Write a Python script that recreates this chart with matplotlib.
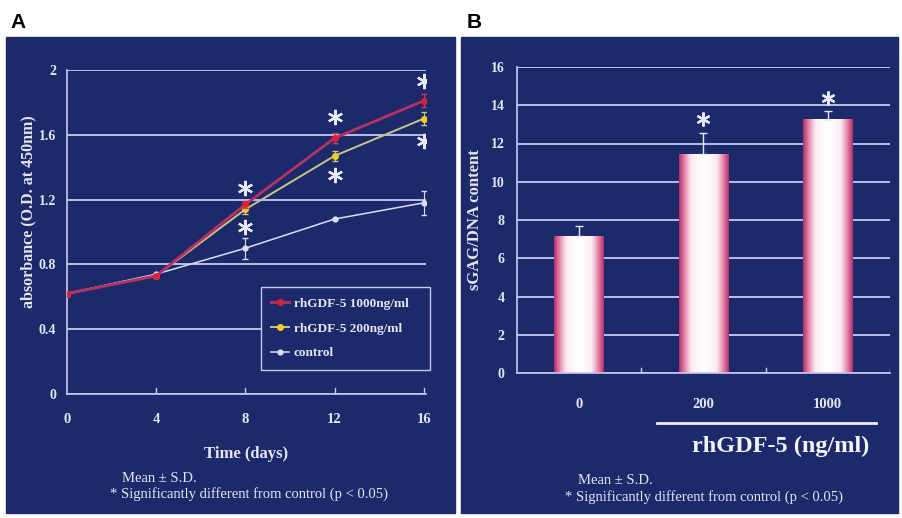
import numpy as np
import matplotlib
matplotlib.use("Agg")
import matplotlib.pyplot as plt
from matplotlib.patches import Rectangle
from matplotlib.lines import Line2D
from matplotlib.colors import LinearSegmentedColormap

# panel A data
days = [0, 4, 8, 12, 16]
gdf1000 = [0.62, 0.73, 1.17, 1.58, 1.81]
gdf1000_sd = [0.0, 0.0, 0.02, 0.03, 0.04]
gdf200 = [0.62, 0.73, 1.14, 1.47, 1.70]
gdf200_sd = [0.0, 0.0, 0.03, 0.03, 0.04]
ctrl = [0.62, 0.74, 0.90, 1.08, 1.18]
ctrl_sd = [0.0, 0.0, 0.065, 0.0, 0.075]
star_days = [8, 8, 12, 12, 16, 16]
star_y = [1.27, 1.03, 1.71, 1.35, 1.93, 1.56]

# panel B data
doses = ["0", "200", "1000"]
gag = [7.15, 11.45, 13.25]
gag_sd = [0.55, 1.1, 0.45]
gag_star = [None, 13.3, 14.4]

navy = "#1c2a6c"
grid_c = "#c9c8f0"
txt_c = "#e6e6f4"
serif = ["Liberation Serif", "DejaVu Serif"]

fig = plt.figure(figsize=(9.02, 5.18), dpi=100)
fig.add_artist(Rectangle((6/902, 1-513/518), 449/902, 476/518,
                         transform=fig.transFigure, color=navy, zorder=-10))
fig.add_artist(Rectangle((461/902, 1-513/518), 437/902, 476/518,
                         transform=fig.transFigure, color=navy, zorder=-10))
fig.text(10/902, 1-22/518, "A", fontsize=15, fontweight="bold",
         family="Liberation Sans", va="center", ha="left")
fig.text(467/902, 1-22/518, "B", fontsize=15, fontweight="bold",
         family="Liberation Sans", va="center", ha="left")


def style_axes(ax):
    ax.set_facecolor(navy)
    for s in ["top", "right"]:
        ax.spines[s].set_visible(False)
    for s in ["left", "bottom"]:
        ax.spines[s].set_color(grid_c)
        ax.spines[s].set_linewidth(1.2)
    ax.tick_params(colors=grid_c, labelcolor=txt_c, length=0)
    ax.tick_params(axis="y", labelsize=10)
    ax.tick_params(axis="x", labelsize=10.5)
    for lab in ax.get_xticklabels() + ax.get_yticklabels():
        lab.set_family(serif)
        lab.set_fontweight("bold")
    ax.yaxis.grid(True, color=grid_c, linewidth=1.3)
    ax.set_axisbelow(True)


# ---------- panel A ----------
axA = fig.add_axes([67/902, 1-394/518, 359/902, 324/518])
axA.set_xlim(0, 16.1)
axA.set_ylim(0, 2)
axA.set_yticks([0, 0.4, 0.8, 1.2, 1.6, 2])
axA.set_yticklabels(["0", "0.4", "0.8", "1.2", "1.6", "2"])
axA.set_xticks(days)
style_axes(axA)
axA.tick_params(axis="y", pad=8)
axA.tick_params(axis="x", pad=14)
for d in days[1:]:
    axA.plot([d, d], [0, 0.04], color=grid_c, lw=1)

axA.errorbar(days, ctrl, yerr=ctrl_sd, color="#dcdcf4", lw=1.1, marker="o", ms=3.5,
             capsize=2.5, elinewidth=0.8, label="control", zorder=3)
axA.errorbar(days, gdf200, yerr=gdf200_sd, color="#c8c48a", lw=1.4, marker="o", ms=4,
             mfc="#f0d020", mec="#f0d020", capsize=2.5, elinewidth=0.8,
             ecolor="#c8c48a", label="rhGDF-5 200ng/ml", zorder=4)
axA.errorbar(days, gdf1000, yerr=gdf1000_sd, color="#b83060", lw=2, marker="o", ms=4,
             mfc="#e02030", mec="#e02030", capsize=2.5, elinewidth=0.8,
             ecolor="#c04060", label="rhGDF-5 1000ng/ml", zorder=5)
axA.plot(star_days, star_y, ls="none", marker=(6, 2, 0), ms=11, mew=1.6,
         color="#e8e8f8", zorder=6)

handles = [
    Line2D([], [], color="#b83060", lw=2, marker="o", ms=4, mfc="#e02030", mec="#e02030"),
    Line2D([], [], color="#c8c48a", lw=1.4, marker="o", ms=4, mfc="#f0d020", mec="#f0d020"),
    Line2D([], [], color="#dcdcf4", lw=1.1, marker="o", ms=3.5),
]
leg = axA.legend(handles, ["rhGDF-5 1000ng/ml", "rhGDF-5 200ng/ml", "control"],
                 loc="lower left", bbox_to_anchor=(0.54, 0.074, 0.47, 0.256),
                 mode="expand", frameon=True, fancybox=False, handlelength=1.3,
                 borderpad=0.8, labelspacing=0.95, handletextpad=0.4,
                 borderaxespad=0,
                 prop={"family": serif, "weight": "bold", "size": 9.5})
leg.get_frame().set_facecolor(navy)
leg.get_frame().set_edgecolor(grid_c)
leg.get_frame().set_alpha(1)
for t in leg.get_texts():
    t.set_color(txt_c)

axA.set_xlabel("Time (days)", color=txt_c, family=serif, fontweight="bold",
               fontsize=12, labelpad=14)
fig.text(28/902, 1-212/518, "absorbance (O.D. at 450nm)", rotation=90,
         color=txt_c, family=serif, fontweight="bold", fontsize=11.5,
         ha="center", va="center")
fig.text(122/902, 1-478/518, "Mean \u00b1 S.D.", color=txt_c, family=serif,
         fontsize=10.5, va="center")
fig.text(110/902, 1-494/518, "* Significantly different from control (p < 0.05)",
         color=txt_c, family=serif, fontsize=10.5, va="center")

# ---------- panel B ----------
axB = fig.add_axes([517/902, 1-373/518, 373/902, 306/518])
pos = np.arange(len(doses))
axB.set_xlim(-0.5, 2.5)
axB.set_ylim(0, 16)
axB.set_yticks(range(0, 17, 2))
axB.set_xticks(pos)
axB.set_xticklabels(doses)
style_axes(axB)
axB.tick_params(axis="y", pad=9)
axB.tick_params(axis="x", pad=18)
for b in [0.5, 1.5, 2.5]:
    axB.plot([b, b], [0, 0.25], color=grid_c, lw=1)

grad_x = np.linspace(0, 1, 200)
prof = np.clip(np.abs(grad_x - 0.5) * 2, 0, 1) ** 1.6
grad = np.vstack([prof, prof])
bar_cmap = LinearSegmentedColormap.from_list(
    "barg", [(0, "#ffffff"), (0.35, "#fbe8f0"), (0.7, "#e07aa2"), (1, "#b42d68")])
bw = 0.4
for p, v in zip(pos, gag):
    axB.imshow(grad, cmap=bar_cmap, aspect="auto", interpolation="bilinear",
               extent=(p - bw/2, p + bw/2, 0, v), zorder=2)
axB.set_xlim(-0.5, 2.5)
axB.set_ylim(0, 16)
axB.errorbar(pos, gag, yerr=[np.zeros(3), gag_sd], fmt="none", ecolor="#e8e8f8",
             elinewidth=1, capsize=3, zorder=3)
for p, s in zip(pos, gag_star):
    if s is not None:
        axB.plot([p], [s], ls="none", marker=(6, 2, 0), ms=10, mew=1.6,
                 color="#e8e8f8", zorder=4)

axB.plot([0.63, 2.39], [-0.163, -0.163], color="#f0f0fa", lw=2,
         transform=axB.get_xaxis_transform(), clip_on=False)
fig.text(781/902, 1-446/518, "rhGDF-5 (ng/ml)", color="#f4f4fc", family=serif,
         fontweight="bold", fontsize=17.5, ha="center", va="center")
fig.text(475/902, 1-220/518, "sGAG/DNA content", rotation=90,
         color=txt_c, family=serif, fontweight="bold", fontsize=12,
         ha="center", va="center")
fig.text(578/902, 1-480/518, "Mean \u00b1 S.D.", color=txt_c, family=serif,
         fontsize=10.5, va="center")
fig.text(565/902, 1-497/518, "* Significantly different from control (p < 0.05)",
         color=txt_c, family=serif, fontsize=10.5, va="center")

fig.savefig("out.png", dpi=100)
